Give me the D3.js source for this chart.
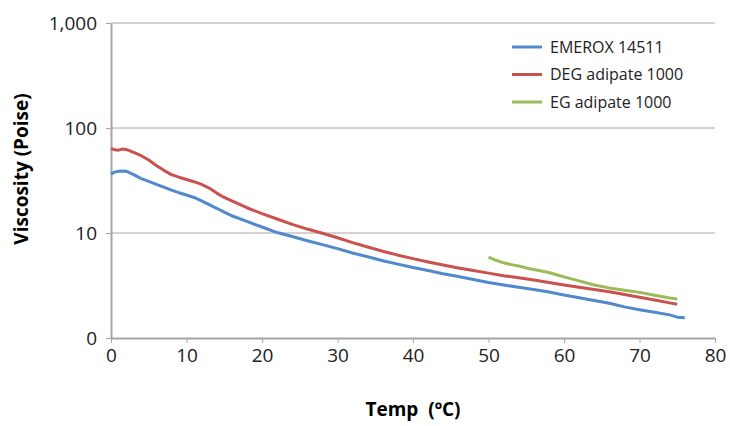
<!DOCTYPE html>
<html>
<head>
<meta charset="utf-8">
<script src="https://cdn.jsdelivr.net/npm/d3@7"></script>
<style>
  body { margin: 0; background: #fff; }
  text { font-family: "Open Sans", sans-serif; }
</style>
</head>
<body>
<div id="chart"></div>
<script>
// temperature (degC) and viscosity (Poise)
var tempA = [0,0.5,1,1.5,2,3,4,5,6,7,8,9,10,11,12,13,14,15,16,18,20,22,24,26,28,30,32,34,36,38,40,42,44,46,48,50,52,54,56,58,60,62,64,66,68,70,72,74,75,76];
var emerox = [36.5,38,38.8,39,38.8,36,33,31,29,27.3,25.6,24.2,23,21.8,20.2,18.6,17.2,15.8,14.6,12.9,11.4,10.1,9.25,8.45,7.75,7.1,6.45,5.95,5.45,5.05,4.7,4.4,4.1,3.85,3.6,3.38,3.2,3.04,2.9,2.74,2.57,2.42,2.28,2.14,1.98,1.86,1.76,1.66,1.58,1.56];

var tempB = [0,0.5,1,1.5,2,3,4,5,6,7,8,9,10,11,12,13,14,15,16,18,20,22,24,26,28,30,32,34,36,38,40,42,44,46,48,50,52,54,56,58,60,62,64,66,68,70,72,74,75];
var degAdipate = [64,62,61.5,63,62.5,58.5,54.5,49.5,44,39.5,36,34,32.3,30.8,29,26.8,24,21.8,20.2,17.4,15.3,13.6,12.1,10.9,9.95,9.0,8.1,7.35,6.7,6.15,5.7,5.3,4.95,4.65,4.4,4.15,3.92,3.74,3.56,3.38,3.2,3.05,2.9,2.76,2.6,2.44,2.3,2.16,2.1];

var tempC = [50,51,52,53,54,55,56,57,58,59,60,62,64,66,68,70,72,74,75];
var egAdipate = [5.9,5.5,5.2,5.0,4.85,4.65,4.5,4.35,4.2,4.0,3.82,3.5,3.2,3.0,2.85,2.72,2.55,2.4,2.35];

var seriesNames = ["EMEROX 14511", "DEG adipate 1000", "EG adipate 1000"];
var seriesColors = ["#5089CC", "#CB514E", "#9BBB59"];
var xTicks = [0,10,20,30,40,50,60,70,80];
var yTicks = [1,10,100,1000];

var margin = {top: 23, right: 15, bottom: 88, left: 111},
    width = 730 - margin.left - margin.right,
    height = 426 - margin.top - margin.bottom;

var svg = d3.select("#chart")
  .append("svg")
    .attr("width", 730)
    .attr("height", 426)
  .append("g")
    .attr("transform", "translate(" + margin.left + "," + margin.top + ")");

var x = d3.scaleLinear().domain([0, 80]).range([0, 604]);
var y = d3.scaleLog().domain([1, 1000]).range([height, 0]);

// gridlines
svg.selectAll(".grid")
  .data(yTicks.slice(1))
  .enter()
  .append("line")
    .attr("x1", 0)
    .attr("x2", x(80))
    .attr("y1", function(d) { return y(d); })
    .attr("y2", function(d) { return y(d); })
    .attr("stroke", "#a6a6a6")
    .attr("stroke-width", 1);

// x axis
var gx = svg.append("g")
  .attr("transform", "translate(0," + height + ")")
  .call(d3.axisBottom(x).tickValues(xTicks).tickSize(5).tickSizeOuter(0));
gx.select(".domain").attr("stroke", "#a6a6a6").attr("stroke-width", 2);
gx.selectAll(".tick line").attr("stroke", "#a6a6a6");
gx.selectAll("text")
  .attr("font-size", 19)
  .attr("fill", "#222")
  .attr("y", 7)
  .attr("dy", "0.9em")
  .style("font-family", "Open Sans");

// y axis
var gy = svg.append("g")
  .call(d3.axisLeft(y).tickValues(yTicks).tickSize(5).tickSizeOuter(0)
    .tickFormat(function(d) { return d === 1 ? "0" : d3.format(",")(d); }));
gy.select(".domain").attr("stroke", "#a6a6a6").attr("stroke-width", 2);
gy.selectAll(".tick line").attr("stroke", "#a6a6a6");
gy.selectAll("text")
  .attr("font-size", 19)
  .attr("fill", "#222")
  .attr("x", -14)
  .style("font-family", "Open Sans");

// lines
var line = d3.line()
  .x(function(d) { return x(d[0]); })
  .y(function(d) { return y(d[1]); });

var series = [
  d3.zip(tempA, emerox),
  d3.zip(tempB, degAdipate),
  d3.zip(tempC, egAdipate)
];

svg.selectAll(".series")
  .data(series)
  .enter()
  .append("path")
    .attr("d", line)
    .attr("fill", "none")
    .attr("stroke", function(d, i) { return seriesColors[i]; })
    .attr("stroke-width", 3)
    .attr("stroke-linejoin", "round");

// legend
var legend = svg.selectAll(".legend")
  .data(seriesNames)
  .enter()
  .append("g")
    .attr("transform", function(d, i) { return "translate(401," + (24 + i * 27.5) + ")"; });
legend.append("line")
  .attr("x1", 0).attr("x2", 30)
  .attr("stroke", function(d, i) { return seriesColors[i]; })
  .attr("stroke-width", 3);
legend.append("text")
  .attr("x", 38)
  .attr("dy", "0.35em")
  .attr("font-size", 16)
  .attr("fill", "#222")
  .text(function(d) { return d; });

// axis titles
svg.append("text")
  .attr("x", x(40))
  .attr("y", height + 78)
  .attr("text-anchor", "middle")
  .attr("font-size", 19)
  .attr("font-weight", "bold")
  .style("white-space", "pre")
  .text("Temp  (\u00baC)");

svg.append("text")
  .attr("transform", "rotate(-90)")
  .attr("x", -(169 - margin.top))
  .attr("y", -83)
  .attr("text-anchor", "middle")
  .attr("font-size", 19)
  .attr("font-weight", "bold")
  .text("Viscosity (Poise)");
</script>
</body>
</html>
